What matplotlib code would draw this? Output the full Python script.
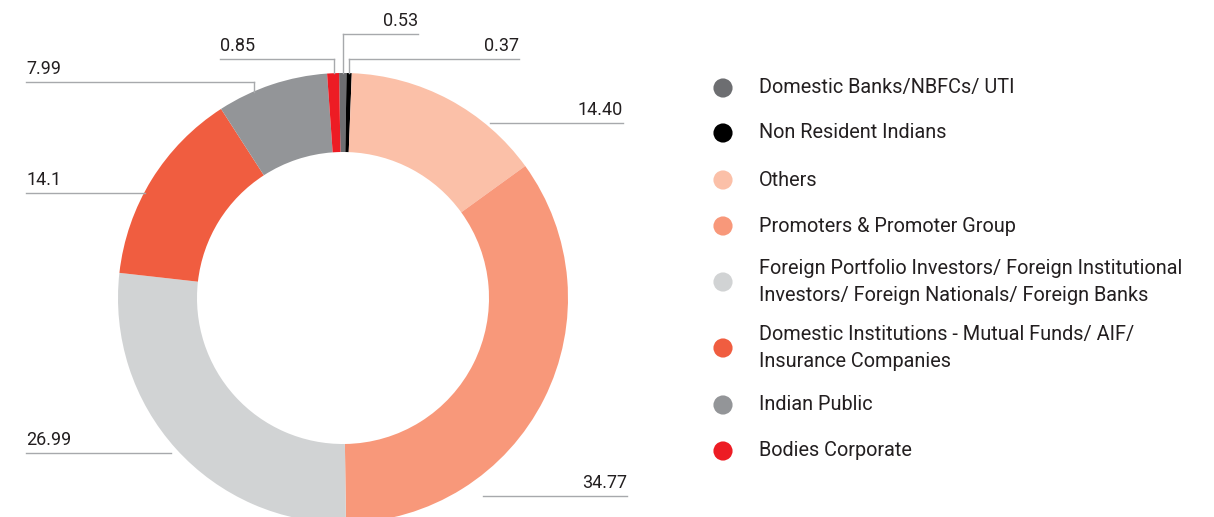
import matplotlib.pyplot as plt

# Shareholding categories, clockwise from the top
categories = [
    'Domestic Banks/NBFCs/ UTI',
    'Non Resident Indians',
    'Others',
    'Promoters & Promoter Group',
    'Foreign Portfolio Investors/ Foreign Institutional\nInvestors/ Foreign Nationals/ Foreign Banks',
    'Domestic Institutions - Mutual Funds/ AIF/\nInsurance Companies',
    'Indian Public',
    'Bodies Corporate',
]
shares = [0.53, 0.37, 14.40, 34.77, 26.99, 14.1, 7.99, 0.85]
value_labels = ['0.53', '0.37', '14.40', '34.77', '26.99', '14.1', '7.99', '0.85']
colors = ['#6d6e71', '#000000', '#fbc0a8', '#f8987a', '#d1d3d4',
          '#f05d40', '#939598', '#ed1c24']

W, H = 1214, 517
fig = plt.figure(figsize=(W / 100, H / 100), dpi=100)
ax = fig.add_axes([0, 0, 1, 1])

cx, cy = 343, H - 298
r_out, r_in = 225, 146
ax.pie(shares, colors=colors, startangle=91, counterclock=False,
       center=(cx, cy), radius=r_out,
       wedgeprops=dict(width=r_out - r_in, linewidth=0))

ax.set_xlim(0, W)
ax.set_ylim(0, H)
ax.set_aspect('equal')
ax.axis('off')

# leader lines: (line y, x start, x end, drop to y or None, text x, align)
leaders = [
    (34, 343, 418, 73, 418, 'right'),
    (59, 349, 519, 73, 519, 'right'),
    (123, 490, 623, None, 623, 'right'),
    (496, 483, 627, None, 627, 'right'),
    (453, 26, 171, None, 26, 'left'),
    (193, 26, 145, None, 26, 'left'),
    (82, 26, 254, 92, 26, 'left'),
    (59, 220, 334, 73, 220, 'left'),
]
line_col = '#a7a9ac'
for lab, (ly, x0, x1, drop, tx, ha) in zip(value_labels, leaders):
    ax.plot([x0, x1], [H - ly, H - ly], color=line_col, lw=1)
    if drop is not None:
        xv = x0 if ha == 'right' else x1
        ax.plot([xv, xv], [H - ly, H - drop], color=line_col, lw=1)
    ax.text(tx, H - ly + 4, lab, ha=ha, va='bottom', fontsize=13,
            color='#231f20', family='Roboto')

# legend
leg_y = [88, 133, 180, 226, 282, 348, 405, 451]
for cat, col, ly in zip(categories, colors, leg_y):
    ax.scatter([723], [H - ly], s=190, color=col, edgecolors='none')
    ax.text(759, H - ly, cat, ha='left', va='center', fontsize=14.3,
            color='#231f20', family='Roboto', linespacing=1.55)

fig.savefig('out.png', dpi=100)
